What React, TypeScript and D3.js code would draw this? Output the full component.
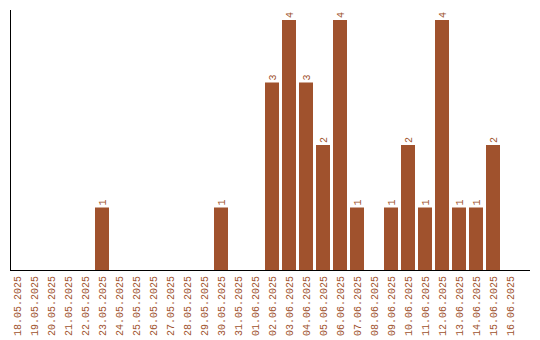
import React from "react";
import * as d3 from "d3";

const dates = [
  "18.05.2025", "19.05.2025", "20.05.2025", "21.05.2025", "22.05.2025",
  "23.05.2025", "24.05.2025", "25.05.2025", "26.05.2025", "27.05.2025",
  "28.05.2025", "29.05.2025", "30.05.2025", "31.05.2025", "01.06.2025",
  "02.06.2025", "03.06.2025", "04.06.2025", "05.06.2025", "06.06.2025",
  "07.06.2025", "08.06.2025", "09.06.2025", "10.06.2025", "11.06.2025",
  "12.06.2025", "13.06.2025", "14.06.2025", "15.06.2025", "16.06.2025",
];
const counts = [
  0, 0, 0, 0, 0,
  1, 0, 0, 0, 0,
  0, 0, 1, 0, 0,
  3, 4, 3, 2, 4,
  1, 0, 1, 2, 1,
  4, 1, 1, 2, 0,
];

const W = 540;
const H = 340;
const left = 10;
const baseY = 270;
const topY = 20;
const color = "#a0522d";

export default function App() {
  const x = d3
    .scaleBand<string>()
    .domain(dates)
    .range([left, left + 17 * dates.length - 3])
    .paddingInner(3 / 17)
    .paddingOuter(0);
  const bw = x.bandwidth();
  const y = d3.scaleLinear().domain([0, 4]).range([baseY, topY]);

  return (
    <svg
      width={W}
      height={H}
      style={{ position: "absolute", left: 0, top: 0, display: "block" }}
    >
      <rect width={W} height={H} fill="#fff" />
      {dates.map((d, i) =>
        counts[i] > 0 ? (
          <g key={d}>
            <rect
              x={x(d)}
              y={y(counts[i])}
              width={bw}
              height={baseY - y(counts[i])}
              fill={color}
            />
            <text
              transform={`translate(${(x(d) as number) + bw / 2},${y(counts[i]) - 2}) rotate(-90)`}
              dy="0.35em"
              textAnchor="start"
              fontFamily="Liberation Mono, monospace"
              fontSize={10}
              fill={color}
            >
              {counts[i]}
            </text>
          </g>
        ) : null
      )}
      <line x1={10.5} x2={10.5} y1={10} y2={baseY} stroke="#000" strokeWidth={1} />
      <line x1={10} x2={530} y1={baseY + 0.5} y2={baseY + 0.5} stroke="#000" strokeWidth={1} />
      {dates.map((d) => (
        <text
          key={"l" + d}
          transform={`translate(${(x(d) as number) + bw / 2},276) rotate(-90)`}
          dy="0.35em"
          textAnchor="end"
          fontFamily="Liberation Mono, monospace"
          fontSize={10}
          fill={color}
        >
          {d}
        </text>
      ))}
    </svg>
  );
}
